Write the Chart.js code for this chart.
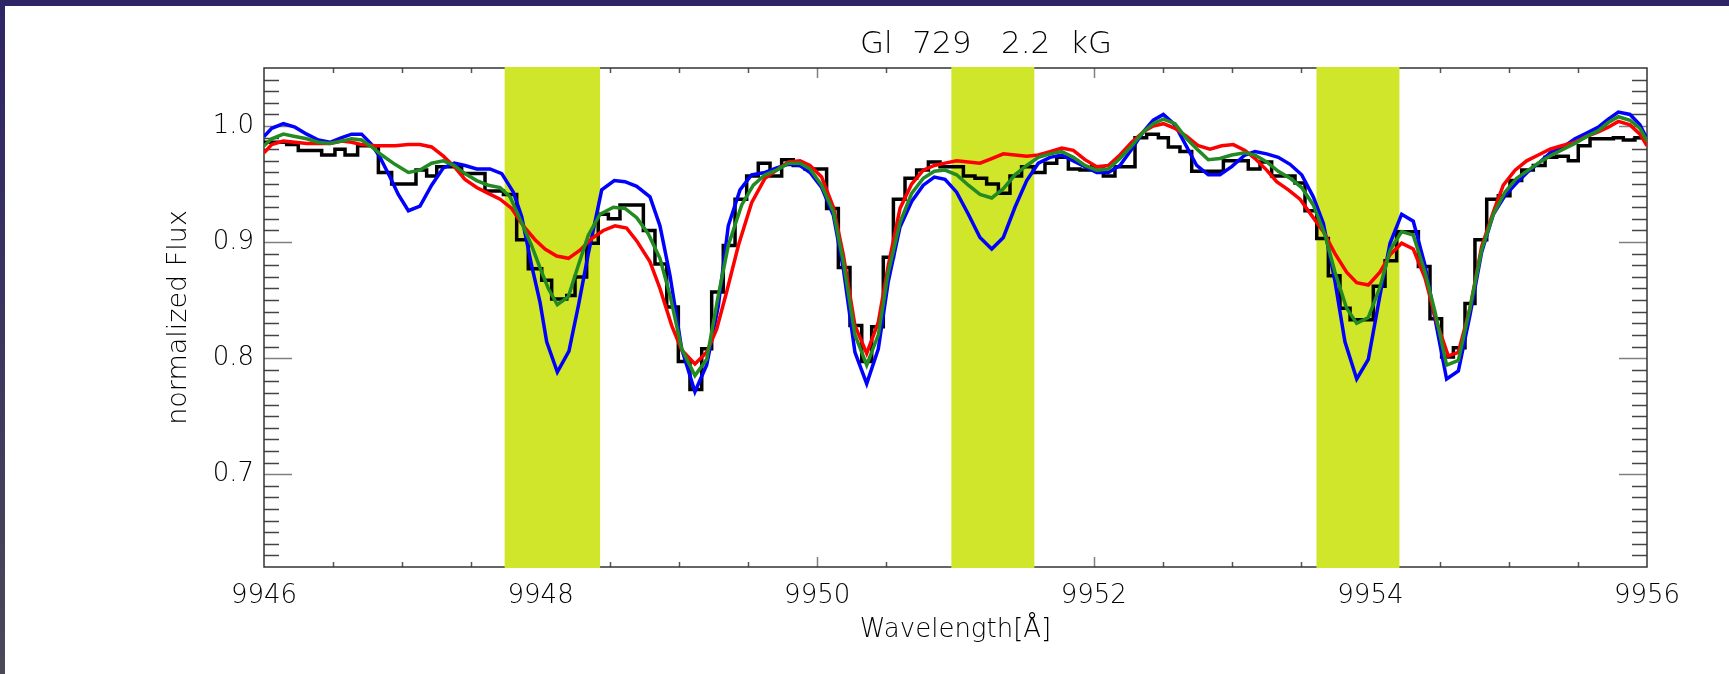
<!DOCTYPE html>
<html>
<head>
<meta charset="utf-8">
<title>Gl 729 2.2 kG</title>
<script src="https://cdn.jsdelivr.net/npm/chart.js@4.4.1/dist/chart.umd.min.js"></script>
<style>
  html, body { margin: 0; padding: 0; background: #fff; }
  #wrap { position: relative; width: 1729px; height: 674px; overflow: hidden; }
  #spec { position: absolute; left: 0; top: 0; }
  #topbar { position: absolute; left: 0; top: 0; width: 1729px; height: 6px; background: #2e2566; }
  #leftbar { position: absolute; left: 0; top: 0; width: 5px; height: 674px; background: linear-gradient(#2e2566, #4a4858); }
</style>
</head>
<body>
<div id="wrap">
  <canvas id="spec" width="1729" height="674"></canvas>
  <div id="topbar"></div>
  <div id="leftbar"></div>
</div>
<script>
const titleText = 'Gl  729   2.2  kG';

const xTickValues = [9946, 9948, 9950, 9952, 9954, 9956];
const yTickValues = [0.7, 0.8, 0.9, 1.0];

// highlighted wavelength windows (Å)
const bandStart = [9947.74, 9950.97, 9953.61];
const bandEnd = [9948.43, 9951.57, 9954.21];

// observed spectrum: left edge of each bin and its flux
const obsWave = [
  9946.00, 9946.164, 9946.248, 9946.417, 9946.513, 9946.586, 9946.677, 9946.827, 9946.923, 9947.099,
  9947.176, 9947.249, 9947.429, 9947.598, 9947.731, 9947.827, 9947.911, 9948.008, 9948.080, 9948.189,
  9948.249, 9948.333, 9948.417, 9948.490, 9948.574, 9948.743, 9948.827, 9948.912, 9948.996, 9949.080,
  9949.165, 9949.237, 9949.321, 9949.406, 9949.490, 9949.574, 9949.659, 9949.743, 9949.827, 9949.912,
  9950.068, 9950.153, 9950.237, 9950.322, 9950.394, 9950.478, 9950.551, 9950.635, 9950.719, 9950.804,
  9950.888, 9951.057, 9951.141, 9951.225, 9951.310, 9951.394, 9951.478, 9951.563, 9951.647, 9951.732,
  9951.816, 9951.900, 9951.985, 9952.069, 9952.153, 9952.298, 9952.382, 9952.467, 9952.539, 9952.623,
  9952.708, 9952.937, 9953.117, 9953.202, 9953.286, 9953.455, 9953.527, 9953.612, 9953.696, 9953.780,
  9953.853, 9954.021, 9954.106, 9954.190, 9954.347, 9954.431, 9954.515, 9954.600, 9954.684, 9954.756,
  9954.841, 9954.925, 9955.009, 9955.094, 9955.178, 9955.263, 9955.347, 9955.431, 9955.503, 9955.588,
  9955.757, 9955.829, 9955.913, 9956.00
];
const obsFlux = [
  0.986, 0.984, 0.979, 0.975, 0.980, 0.975, 0.983, 0.960, 0.950, 0.962,
  0.957, 0.965, 0.959, 0.944, 0.941, 0.902, 0.877, 0.867, 0.851, 0.854,
  0.870, 0.899, 0.924, 0.920, 0.932, 0.910, 0.881, 0.844, 0.797, 0.773,
  0.808, 0.857, 0.897, 0.937, 0.957, 0.968, 0.957, 0.971, 0.966, 0.963,
  0.929, 0.878, 0.828, 0.797, 0.827, 0.887, 0.937, 0.955, 0.962, 0.969,
  0.965, 0.957, 0.955, 0.950, 0.942, 0.957, 0.965, 0.960, 0.968, 0.973,
  0.963, 0.962, 0.965, 0.957, 0.965, 0.990, 0.993, 0.990, 0.982, 0.978,
  0.961, 0.970, 0.963, 0.969, 0.957, 0.951, 0.927, 0.903, 0.871, 0.843,
  0.833, 0.862, 0.884, 0.909, 0.879, 0.834, 0.801, 0.809, 0.847, 0.902,
  0.937, 0.940, 0.953, 0.962, 0.966, 0.973, 0.974, 0.970, 0.983, 0.989,
  0.990, 0.988, 0.990, 0.990
];

// model spectra
const blueWave = [
  9946.00, 9946.056, 9946.140, 9946.224, 9946.309, 9946.393, 9946.477, 9946.562, 9946.634, 9946.706,
  9946.779, 9946.839, 9946.911, 9946.971, 9947.044, 9947.128, 9947.212, 9947.297, 9947.376, 9947.453,
  9947.538, 9947.634, 9947.719, 9947.803, 9947.863, 9947.935, 9947.996, 9948.044, 9948.121, 9948.205,
  9948.273, 9948.345, 9948.442, 9948.533, 9948.610, 9948.695, 9948.791, 9948.863, 9948.936, 9949.020,
  9949.116, 9949.201, 9949.285, 9949.357, 9949.442, 9949.526, 9949.623, 9949.707, 9949.791, 9949.876,
  9949.948, 9950.032, 9950.117, 9950.189, 9950.273, 9950.358, 9950.442, 9950.514, 9950.599, 9950.683,
  9950.767, 9950.847, 9950.924, 9951.008, 9951.093, 9951.177, 9951.262, 9951.346, 9951.430, 9951.515,
  9951.599, 9951.683, 9951.768, 9951.852, 9951.936, 9952.021, 9952.105, 9952.189, 9952.274, 9952.358,
  9952.430, 9952.503, 9952.587, 9952.672, 9952.744, 9952.828, 9952.912, 9952.997, 9953.093, 9953.166,
  9953.250, 9953.334, 9953.419, 9953.503, 9953.587, 9953.660, 9953.744, 9953.816, 9953.901, 9953.985,
  9954.069, 9954.142, 9954.226, 9954.310, 9954.395, 9954.467, 9954.551, 9954.636, 9954.720, 9954.804,
  9954.889, 9954.973, 9955.058, 9955.142, 9955.226, 9955.311, 9955.395, 9955.479, 9955.564, 9955.648,
  9955.720, 9955.793, 9955.877, 9955.949, 9956.00
];
const blueFlux = [
  0.991, 0.998, 1.002, 0.999, 0.993, 0.988, 0.986, 0.990, 0.993, 0.993,
  0.984, 0.973, 0.956, 0.941, 0.927, 0.931, 0.949, 0.964, 0.968, 0.966,
  0.963, 0.963, 0.959, 0.943, 0.922, 0.880, 0.848, 0.814, 0.788, 0.806,
  0.845, 0.890, 0.945, 0.953, 0.952, 0.948, 0.939, 0.914, 0.871, 0.808,
  0.771, 0.794, 0.845, 0.914, 0.945, 0.958, 0.960, 0.964, 0.967, 0.966,
  0.960, 0.947, 0.923, 0.877, 0.805, 0.778, 0.808, 0.866, 0.913, 0.935,
  0.949, 0.956, 0.954, 0.943, 0.924, 0.904, 0.894, 0.904, 0.930, 0.953,
  0.968, 0.973, 0.975, 0.970, 0.965, 0.960, 0.960, 0.966, 0.980, 0.995,
  1.005, 1.010, 1.001, 0.982, 0.966, 0.958, 0.958, 0.965, 0.975, 0.978,
  0.976, 0.973, 0.967, 0.958, 0.939, 0.916, 0.866, 0.814, 0.782, 0.799,
  0.854, 0.899, 0.924, 0.918, 0.880, 0.834, 0.782, 0.789, 0.837, 0.891,
  0.924, 0.940, 0.951, 0.961, 0.969, 0.978, 0.982, 0.989, 0.994, 0.999,
  1.006, 1.012, 1.010, 1.001, 0.989
];

const greenWave = [
  9946.00, 9946.056, 9946.140, 9946.224, 9946.309, 9946.393, 9946.477, 9946.562, 9946.634, 9946.706,
  9946.779, 9946.851, 9946.947, 9947.044, 9947.128, 9947.212, 9947.297, 9947.376, 9947.453, 9947.538,
  9947.622, 9947.707, 9947.779, 9947.851, 9947.935, 9948.008, 9948.056, 9948.121, 9948.201, 9948.273,
  9948.345, 9948.430, 9948.526, 9948.610, 9948.695, 9948.779, 9948.863, 9948.936, 9949.020, 9949.116,
  9949.201, 9949.285, 9949.357, 9949.454, 9949.538, 9949.623, 9949.707, 9949.791, 9949.876, 9949.948,
  9950.032, 9950.117, 9950.189, 9950.273, 9950.358, 9950.442, 9950.514, 9950.599, 9950.683, 9950.767,
  9950.847, 9950.924, 9951.008, 9951.093, 9951.177, 9951.262, 9951.346, 9951.430, 9951.515, 9951.599,
  9951.683, 9951.768, 9951.852, 9951.936, 9952.021, 9952.105, 9952.189, 9952.274, 9952.358, 9952.430,
  9952.503, 9952.587, 9952.672, 9952.756, 9952.828, 9952.912, 9952.997, 9953.093, 9953.166, 9953.250,
  9953.334, 9953.419, 9953.503, 9953.587, 9953.672, 9953.744, 9953.828, 9953.901, 9953.985, 9954.069,
  9954.142, 9954.226, 9954.310, 9954.395, 9954.467, 9954.551, 9954.636, 9954.720, 9954.804, 9954.889,
  9954.973, 9955.058, 9955.142, 9955.226, 9955.311, 9955.395, 9955.479, 9955.564, 9955.648, 9955.720,
  9955.793, 9955.877, 9955.949, 9956.00
];
const greenFlux = [
  0.983, 0.989, 0.993, 0.991, 0.989, 0.986, 0.985, 0.987, 0.989, 0.988,
  0.982, 0.975, 0.967, 0.960, 0.962, 0.968, 0.970, 0.966, 0.959, 0.953,
  0.949, 0.947, 0.939, 0.920, 0.897, 0.874, 0.860, 0.846, 0.853, 0.880,
  0.906, 0.924, 0.930, 0.929, 0.921, 0.907, 0.886, 0.854, 0.808, 0.785,
  0.799, 0.854, 0.897, 0.932, 0.949, 0.958, 0.962, 0.968, 0.968, 0.963,
  0.949, 0.926, 0.883, 0.820, 0.794, 0.820, 0.874, 0.917, 0.942, 0.955,
  0.961, 0.962, 0.958, 0.949, 0.941, 0.938, 0.946, 0.958, 0.966, 0.973,
  0.976, 0.978, 0.973, 0.966, 0.962, 0.963, 0.972, 0.983, 0.995, 1.002,
  1.006, 1.002, 0.989, 0.979, 0.971, 0.972, 0.975, 0.977, 0.975, 0.969,
  0.961, 0.955, 0.947, 0.932, 0.906, 0.874, 0.843, 0.830, 0.835, 0.861,
  0.893, 0.909, 0.906, 0.874, 0.840, 0.794, 0.798, 0.843, 0.893, 0.924,
  0.943, 0.955, 0.962, 0.969, 0.975, 0.980, 0.985, 0.991, 0.996, 1.003,
  1.008, 1.005, 0.998, 0.987
];

const redWave = [
  9946.00, 9946.056, 9946.140, 9946.224, 9946.309, 9946.393, 9946.477, 9946.562, 9946.634, 9946.706,
  9946.803, 9946.947, 9947.044, 9947.128, 9947.212, 9947.297, 9947.376, 9947.453, 9947.538, 9947.622,
  9947.707, 9947.791, 9947.875, 9947.960, 9948.032, 9948.116, 9948.201, 9948.285, 9948.369, 9948.454,
  9948.538, 9948.622, 9948.695, 9948.791, 9948.863, 9948.948, 9949.020, 9949.116, 9949.201, 9949.273,
  9949.345, 9949.430, 9949.526, 9949.623, 9949.707, 9949.791, 9949.876, 9949.948, 9950.032, 9950.117,
  9950.189, 9950.273, 9950.358, 9950.442, 9950.514, 9950.599, 9950.683, 9950.767, 9950.847, 9950.924,
  9951.008, 9951.093, 9951.177, 9951.262, 9951.346, 9951.430, 9951.515, 9951.599, 9951.683, 9951.768,
  9951.852, 9951.936, 9952.021, 9952.105, 9952.189, 9952.274, 9952.358, 9952.430, 9952.503, 9952.587,
  9952.672, 9952.756, 9952.840, 9952.925, 9953.009, 9953.093, 9953.166, 9953.250, 9953.322, 9953.407,
  9953.491, 9953.575, 9953.660, 9953.744, 9953.828, 9953.901, 9953.985, 9954.069, 9954.142, 9954.226,
  9954.310, 9954.395, 9954.479, 9954.563, 9954.636, 9954.720, 9954.804, 9954.889, 9954.961, 9955.046,
  9955.130, 9955.214, 9955.299, 9955.383, 9955.479, 9955.564, 9955.648, 9955.720, 9955.793, 9955.877,
  9955.949, 9956.00
];
const redFlux = [
  0.977, 0.984, 0.987, 0.986, 0.985, 0.985, 0.985, 0.987, 0.986, 0.984,
  0.983, 0.983, 0.984, 0.984, 0.982, 0.974, 0.965, 0.954, 0.947, 0.942,
  0.937, 0.929, 0.914, 0.902, 0.894, 0.888, 0.886, 0.893, 0.903, 0.910,
  0.914, 0.912, 0.901, 0.883, 0.860, 0.828, 0.807, 0.795, 0.805, 0.825,
  0.857, 0.897, 0.934, 0.955, 0.962, 0.969, 0.970, 0.966, 0.956, 0.930,
  0.889, 0.828, 0.804, 0.831, 0.880, 0.929, 0.950, 0.962, 0.966, 0.968,
  0.970, 0.969, 0.968, 0.972, 0.976, 0.975, 0.974, 0.975, 0.978, 0.981,
  0.979, 0.971, 0.965, 0.966, 0.975, 0.986, 0.995, 1.000, 1.002, 0.998,
  0.991, 0.983, 0.980, 0.983, 0.984, 0.979, 0.972, 0.962, 0.952, 0.945,
  0.937, 0.923, 0.909, 0.890, 0.874, 0.865, 0.863, 0.874, 0.889, 0.899,
  0.894, 0.869, 0.831, 0.802, 0.805, 0.843, 0.896, 0.926, 0.949, 0.962,
  0.970, 0.975, 0.980, 0.983, 0.986, 0.991, 0.995, 0.999, 1.004, 1.001,
  0.993, 0.983
];

const FONT = '"DejaVu Sans", sans-serif';
const xMin = 9946, xMax = 9956;
const yMin = 0.62, yMax = 1.05;

function toPoints(wave, flux) {
  return wave.map((w, i) => ({ x: w, y: flux[i] }));
}

// IDL style frame: inward ticks on all four sides, then the yellow windows on top
const axisFrame = {
  id: 'axisFrame',
  beforeDatasetsDraw(chart) {
    const { ctx, chartArea: a, scales: { x, y } } = chart;
    ctx.save();
    ctx.lineWidth = 1.5;
    for (let k = 1; k < 20; k++) {
      const px = Math.round(x.getPixelForValue(xMin + k * 0.5)) + 0.5;
      const major = k % 4 === 0;
      const len = major ? 10 : 5;
      ctx.strokeStyle = major ? '#808080' : '#555';
      ctx.beginPath();
      ctx.moveTo(px, a.bottom); ctx.lineTo(px, a.bottom - len);
      ctx.moveTo(px, a.top); ctx.lineTo(px, a.top + len);
      ctx.stroke();
    }
    for (let k = 63; k < 105; k++) {
      const py = Math.round(y.getPixelForValue(k / 100)) + 0.5;
      const major = k % 10 === 0;
      const len = major ? 28 : 15;
      ctx.strokeStyle = major ? '#808080' : '#444';
      ctx.beginPath();
      ctx.moveTo(a.left, py); ctx.lineTo(a.left + len, py);
      ctx.moveTo(a.right, py); ctx.lineTo(a.right - len, py);
      ctx.stroke();
    }
    ctx.strokeStyle = '#333';
    ctx.strokeRect(a.left, a.top, a.width, a.height);

    ctx.fillStyle = '#d0e62b';
    bandStart.forEach((s, i) => {
      const x0 = x.getPixelForValue(s);
      const x1 = x.getPixelForValue(bandEnd[i]);
      ctx.fillRect(x0, a.top - 1, x1 - x0, a.height + 2);
    });
    ctx.restore();
  }
};

const plotTitle = {
  id: 'plotTitle',
  afterDraw(chart) {
    const { ctx, chartArea: a } = chart;
    ctx.save();
    ctx.font = '200 31px ' + FONT;
    ctx.fillStyle = '#000';
    ctx.textAlign = 'center';
    ctx.textBaseline = 'alphabetic';
    ctx.fillText(titleText, a.left + a.width * 0.522, 53);
    ctx.restore();
  }
};

const ctx = document.getElementById('spec').getContext('2d');
new Chart(ctx, {
  type: 'line',
  data: {
    datasets: [
      {
        label: 'observed',
        data: toPoints(obsWave, obsFlux),
        stepped: 'before',
        borderColor: '#000',
        borderWidth: 3.5,
        borderJoinStyle: 'miter',
        pointRadius: 0,
        order: 4,
      },
      {
        label: 'blue model',
        data: toPoints(blueWave, blueFlux),
        borderColor: '#0000ff',
        borderWidth: 3.5,
        pointRadius: 0,
        order: 3,
      },
      {
        label: 'red model',
        data: toPoints(redWave, redFlux),
        borderColor: '#ff0000',
        borderWidth: 3.5,
        pointRadius: 0,
        order: 2,
      },
      {
        label: 'green model',
        data: toPoints(greenWave, greenFlux),
        borderColor: '#228b22',
        borderWidth: 3.5,
        pointRadius: 0,
        order: 1,
      },
    ],
  },
  options: {
    responsive: false,
    animation: false,
    layout: { padding: { top: 68, right: 82, bottom: 0, left: 0 } },
    plugins: {
      legend: { display: false },
      title: { display: false },
      tooltip: { enabled: false },
    },
    scales: {
      x: {
        type: 'linear',
        min: xMin,
        max: xMax,
        afterFit: (s) => { s.height = 107; },
        afterBuildTicks: (s) => { s.ticks = xTickValues.map((v) => ({ value: v })); },
        grid: { display: false, drawTicks: false },
        border: { display: false },
        ticks: {
          autoSkip: false,
          maxRotation: 0,
          padding: 14,
          color: '#000',
          font: { family: FONT, size: 26, weight: 200 },
          callback: (v) => String(v),
        },
        title: {
          display: true,
          text: 'Wavelength[Å]',
          color: '#000',
          font: { family: FONT, size: 26, weight: 200 },
          padding: { top: 0, bottom: 28 },
        },
      },
      y: {
        min: yMin,
        max: yMax,
        afterFit: (s) => { s.width = 264; },
        afterBuildTicks: (s) => { s.ticks = yTickValues.map((v) => ({ value: v })); },
        grid: { display: false, drawTicks: false },
        border: { display: false },
        ticks: {
          padding: 10,
          color: '#000',
          font: { family: FONT, size: 26, weight: 200 },
          callback: (v) => v.toFixed(1),
        },
        title: {
          display: true,
          text: 'normalized Flux',
          color: '#000',
          font: { family: FONT, size: 27, weight: 200 },
          padding: { top: 163, bottom: 0 },
        },
      },
    },
  },
  plugins: [axisFrame, plotTitle],
});
</script>
</body>
</html>
